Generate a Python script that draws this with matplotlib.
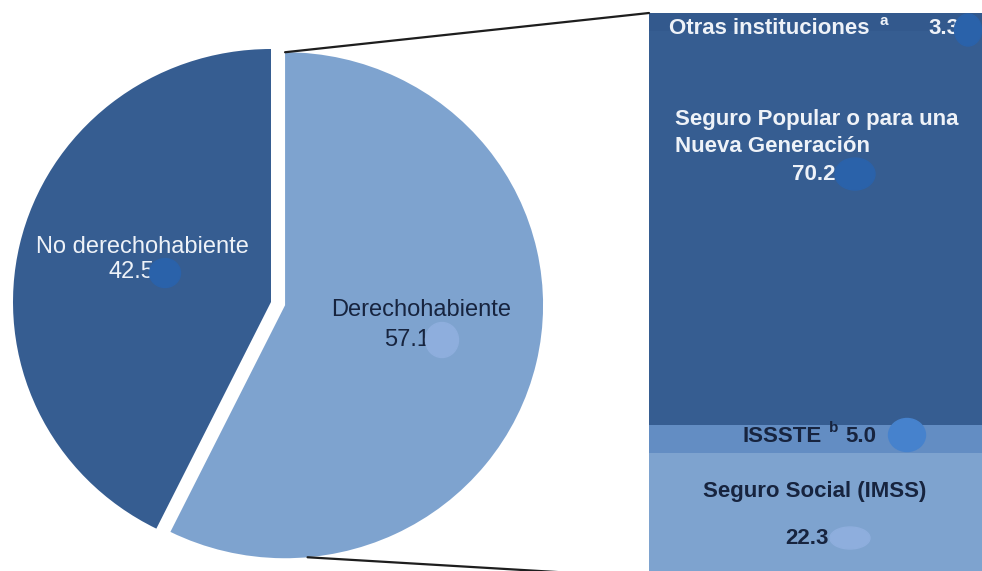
import matplotlib
matplotlib.use("Agg")
import matplotlib.pyplot as plt
import numpy as np
from matplotlib.patches import ConnectionPatch, Ellipse

plt.rcParams['font.family'] = ['Liberation Sans', 'DejaVu Sans']

# ---- data ----
pie_labels = ["No derechohabiente", "Derechohabiente"]
pie_values = [42.5, 57.1]
pie_value_text = ["42.5", "57.1"]

bar_labels = ["Seguro Social (IMSS)", "ISSSTE", "Seguro Popular o para una\nNueva Generación", "Otras instituciones"]
bar_values = [22.3, 5.0, 70.2, 3.3]
bar_value_text = ["22.3", "5.0", "70.2", "3.3"]
bar_notes = ["", "b", "", "a"]

# ---- style ----
DARK = "#365d91"
LIGHT = "#7ea3cf"
MID = "#638dc3"
OTHER = "#33598d"
NAVY = "#17243f"
WHITE = "#eef2f8"

W, H = 982, 571
fig = plt.figure(figsize=(W / 100, H / 100), dpi=100)

# ---- pie axes ----
RX, RY = 258.0, 253.0
cx, cy = 271.0, 302.0
axp = fig.add_axes([0, 0, 600 / W, 1])
wedges, _ = axp.pie(pie_values, colors=[DARK, LIGHT], startangle=90,
                    counterclock=True, explode=[0, 0.056], radius=1,
                    wedgeprops=dict(linewidth=0))
axp.set_aspect('auto')
axp.set_xlim(-cx / RX, (600 - cx) / RX)
axp.set_ylim(-(H - cy) / RY, cy / RY)
axp.axis('off')

px_ = lambda x: (x - cx) / RX
py_ = lambda y: (cy - y) / RY

axp.text(px_(142), py_(247), pie_labels[0], color=WHITE,
         fontsize=17, ha='center', va='center')
axp.text(px_(108), py_(272), pie_value_text[0], color=WHITE,
         fontsize=17, ha='left', va='center')
axp.text(px_(421), py_(310), pie_labels[1], color=NAVY,
         fontsize=17, ha='center', va='center')
axp.text(px_(384), py_(340), pie_value_text[1], color=NAVY,
         fontsize=17, ha='left', va='center')
axp.add_patch(Ellipse((px_(165), py_(273)), 31 / RX, 29 / RY,
                      color="#2a62aa", zorder=5))
axp.add_patch(Ellipse((px_(442), py_(340)), 33 / RX, 35 / RY,
                      color="#8eaedd", zorder=5))

# ---- bar axes ----
PX = 5.6  # px per unit
bar_top_px = 13
total = float(np.sum(bar_values))
bar_bottom_px = bar_top_px + total * PX
axb = fig.add_axes([649 / W, 0, (W - 649) / W, 1])
axb.set_xlim(-0.5, 0.5)
axb.set_ylim(-(H - bar_bottom_px) / PX, total + bar_top_px / PX)
axb.axis('off')
bottoms = np.concatenate([[0], np.cumsum(bar_values)[:-1]])
axb.bar([0] * 4, bar_values, bottom=bottoms, width=1.0,
        color=[LIGHT, MID, DARK, OTHER], linewidth=0)

bx = lambda px: (px - 815.5) / 333.0
by = lambda py: (bar_bottom_px - py) / PX

# IMSS
axb.text(bx(815), by(492), bar_labels[0], color=NAVY, fontsize=16,
         fontweight='bold', ha='center', va='center')
axb.text(bx(785), by(538), bar_value_text[0], color=NAVY, fontsize=16,
         fontweight='bold', ha='left', va='center')
# ISSSTE
axb.text(bx(742), by(436), bar_labels[1], color=NAVY, fontsize=16,
         fontweight='bold', ha='left', va='center')
axb.text(bx(829), by(428), bar_notes[1], color=NAVY, fontsize=11,
         fontweight='bold', ha='left', va='center')
axb.text(bx(845), by(436), bar_value_text[1], color=NAVY, fontsize=16,
         fontweight='bold', ha='left', va='center')
# Seguro Popular
axb.text(bx(675), by(133), bar_labels[2], color=WHITE, fontsize=16,
         fontweight='bold', ha='left', va='center', linespacing=1.4)
axb.text(bx(792), by(174), bar_value_text[2], color=WHITE, fontsize=16,
         fontweight='bold', ha='left', va='center')
# Otras
axb.text(bx(669), by(28), bar_labels[3], color=WHITE, fontsize=16,
         fontweight='bold', ha='left', va='center')
axb.text(bx(880), by(21), bar_notes[3], color=WHITE, fontsize=11,
         fontweight='bold', ha='left', va='center')
axb.text(bx(928), by(28), bar_value_text[3], color=WHITE, fontsize=16,
         fontweight='bold', ha='left', va='center')

# blobs
for (px, py, w, h, c) in [(968, 30, 27, 32, "#2a62aa"), (855, 174, 40, 32, "#2a62aa"),
                          (907, 435, 37, 33, "#4682cd"), (850, 538, 40, 22, "#8eaedd")]:
    axb.add_patch(Ellipse((bx(px), by(py)), w / 333.0, h / PX, color=c, zorder=5))

# ---- connector lines ----
w1 = wedges[1]
c1 = np.array(w1.center)
top_pt = c1 + w1.r * np.array([0, 1])
ang = np.deg2rad(275)
bot_pt = c1 + w1.r * np.array([np.cos(ang), np.sin(ang)])
for p, q in [(top_pt, (-0.5, total)), (bot_pt, (-0.5, 0))]:
    con = ConnectionPatch(xyA=p, coordsA=axp.transData, xyB=q, coordsB=axb.transData,
                          color="#1e1e1e", linewidth=1.6)
    fig.add_artist(con)

fig.savefig("out.png", dpi=100)
